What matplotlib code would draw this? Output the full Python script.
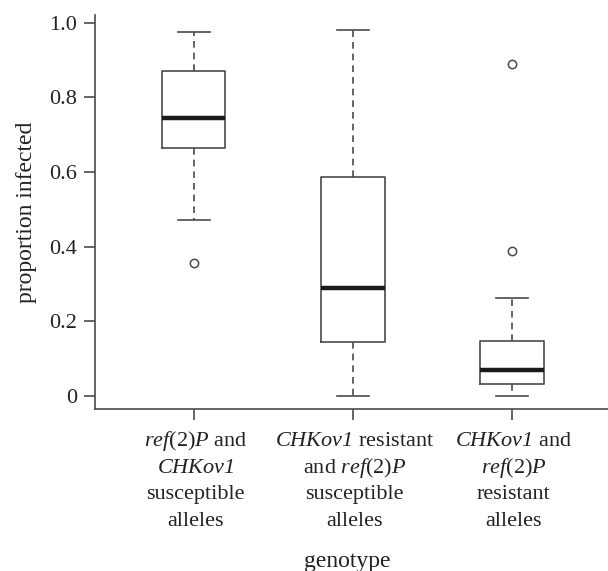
import matplotlib

matplotlib.use("Agg")
import matplotlib.pyplot as plt
from matplotlib import transforms

plt.rcParams["font.family"] = ["Liberation Serif", "DejaVu Serif"]
plt.rcParams["mathtext.fontset"] = "custom"
plt.rcParams["mathtext.rm"] = "Liberation Serif"
# \mathit turns digits upright, so the italic gene names go through \mathsf
plt.rcParams["mathtext.sf"] = "Liberation Serif:italic"
plt.rcParams["mathtext.it"] = "Liberation Serif:italic"

# box statistics
positions = [1, 2, 3]
whislo = [0.470, 0.0, 0.0]
q1 = [0.665, 0.144, 0.031]
med = [0.746, 0.288, 0.068]
q3 = [0.871, 0.586, 0.147]
whishi = [0.975, 0.981, 0.262]
fliers = [[0.355], [], [0.389, 0.890]]

tick_labels = [
    ["$\\mathsf{ref}$(2)$\\mathsf{P}$ and", "$\\mathsf{CHKov1}$", "susceptible", "alleles"],
    ["$\\mathsf{CHKov1}$ resistant", "and $\\mathsf{ref}$(2)$\\mathsf{P}$", "susceptible", "alleles"],
    ["$\\mathsf{CHKov1}$ and", "$\\mathsf{ref}$(2)$\\mathsf{P}$", "resistant", "alleles"],
]
yticks = [0, 0.2, 0.4, 0.6, 0.8, 1.0]
ytick_labels = ["0", "0.2", "0.4", "0.6", "0.8", "1.0"]

LINE = "#4a4a4a"
TEXT = "#222222"
W, H = 608, 571

fig = plt.figure(figsize=(W / 100, H / 100), dpi=100)
ax = fig.add_axes([0.1562, 0.2832, 0.8478, 0.6905])

stats = []
for i in range(len(positions)):
    stats.append(dict(med=med[i], q1=q1[i], q3=q3[i], whislo=whislo[i],
                      whishi=whishi[i], fliers=fliers[i]))

ax.bxp(stats, positions=positions, widths=0.4, showfliers=True,
       boxprops=dict(color=LINE, linewidth=1.2),
       whiskerprops=dict(color=LINE, linewidth=1.2, linestyle=(0, (4, 3))),
       capprops=dict(color=LINE, linewidth=1.2),
       medianprops=dict(color="#1a1a1a", linewidth=3.2, solid_capstyle="butt"),
       flierprops=dict(marker="o", markerfacecolor="none", markeredgecolor=LINE,
                       markersize=6, markeredgewidth=1.1))

ax.set_xlim(0.38, 3.62)
ax.set_ylim(-0.0365, 1.021)

for s in ["top", "right"]:
    ax.spines[s].set_visible(False)
for s in ["left", "bottom"]:
    ax.spines[s].set_color(LINE)
    ax.spines[s].set_linewidth(1.2)

ax.set_yticks(yticks)
ax.set_yticklabels(ytick_labels)
ax.set_xticks(positions)
ax.set_xticklabels([""] * len(positions))
ax.tick_params(axis="both", colors=LINE, labelcolor=TEXT, width=1.2, length=8,
               labelsize=16)
ax.tick_params(axis="y", pad=5)

# multi-line category labels, one text per line so mixed italic lines space evenly
trans = transforms.blended_transform_factory(ax.transData, fig.transFigure)
trans = trans + transforms.ScaledTranslation(2 / 100, 0, fig.dpi_scale_trans)
for pos, lines in zip(positions, tick_labels):
    for j, line in enumerate(lines):
        ax.text(pos, 1 - (446 + 26.7 * j) / H, line, transform=trans,
                ha="center", va="baseline", fontsize=16, color=TEXT,
                clip_on=False)

ax.set_ylabel("proportion infected", fontsize=17, color=TEXT, labelpad=9)
fig.text(347 / W, 1 - 567 / H, "genotype", ha="center", va="baseline",
         fontsize=17, color=TEXT)

fig.savefig("out.png", dpi=100)
